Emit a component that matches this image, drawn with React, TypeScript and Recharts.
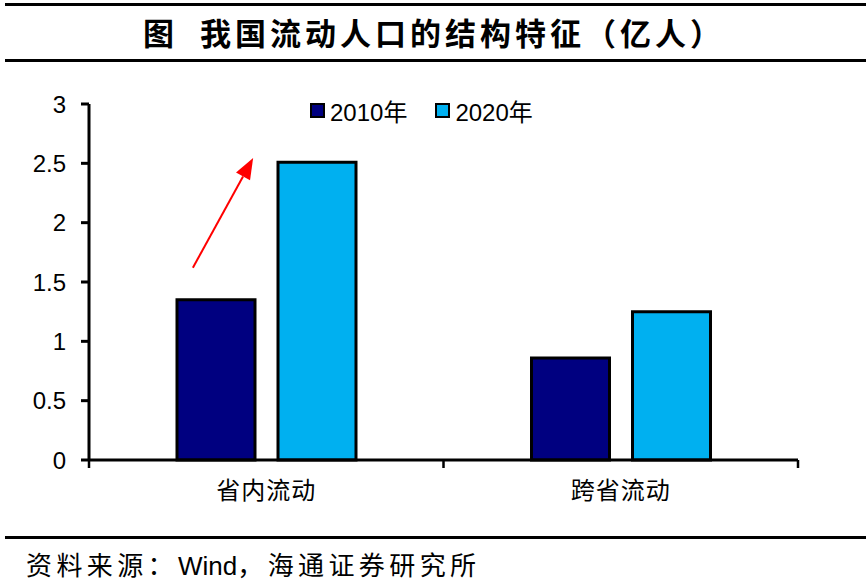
import React from 'react';
import { BarChart, Bar, XAxis, YAxis, ReferenceLine } from 'recharts';

const categories = ['省内流动', '跨省流动'];
const series2010 = [1.35, 0.86];
const series2020 = [2.51, 1.25];
const yTicks = [0, 0.5, 1, 1.5, 2, 2.5, 3];
const seriesNames = ['2010年', '2020年'];
const seriesColors = ['#000080', '#00B0F0'];
const arrowStart = { x: 0.293, y: 1.62 };
const arrowEnd = { x: 0.463, y: 2.545 };

const data = categories.map((c, i) => ({ cat: c, pos: i + 0.5, v2010: series2010[i], v2020: series2020[i] }));

const CJK = '"Noto Sans CJK SC", sans-serif';
const LATIN = '"Liberation Sans", Arial, sans-serif';

const CHART_W = 868;
const MARGIN = { top: 104, right: 70, bottom: 81, left: 29 };
const Y_AXIS_W = 60;
const PLOT_W = CHART_W - MARGIN.left - MARGIN.right - Y_AXIS_W;
const BAND = PLOT_W / categories.length;

const XTick = (props: any) => {
  const { x, y, payload, index } = props;
  return (
    <g>
      <line x1={x - BAND / 2} y1={y} x2={x - BAND / 2} y2={y + 8} stroke="#000" strokeWidth={2.5} />
      {index === categories.length - 1 && (
        <line x1={x + BAND / 2} y1={y} x2={x + BAND / 2} y2={y + 8} stroke="#000" strokeWidth={2.5} />
      )}
      <text x={x} y={y + 39} textAnchor="middle" fontFamily={CJK} fontSize={24} fill="#000" letterSpacing={1}>
        {payload.value}
      </text>
    </g>
  );
};

const ArrowShape = (props: any) => {
  const { x1, y1, x2, y2 } = props;
  if ([x1, y1, x2, y2].some((n) => n === undefined || isNaN(n))) return null;
  const dx = x2 - x1;
  const dy = y2 - y1;
  const len = Math.sqrt(dx * dx + dy * dy);
  const ux = dx / len;
  const uy = dy / len;
  const headLen = 21;
  const headW = 8;
  const bx = x2 - ux * headLen;
  const by = y2 - uy * headLen;
  const px = -uy;
  const py = ux;
  return (
    <g>
      <line x1={x1} y1={y1} x2={bx} y2={by} stroke="#FF0000" strokeWidth={2} />
      <polygon
        points={`${x2},${y2} ${bx + px * headW},${by + py * headW} ${bx - px * headW},${by - py * headW}`}
        fill="#FF0000"
      />
    </g>
  );
};

const LegendBox = () => (
  <div
    style={{
      position: 'absolute',
      left: 310,
      top: 93,
      display: 'flex',
      alignItems: 'center',
      fontSize: 24,
      color: '#000',
      fontFamily: '"Liberation Sans", "Noto Sans CJK SC", sans-serif',
      whiteSpace: 'nowrap',
    }}
  >
    {seriesNames.map((n, i) => (
      <div key={n} style={{ display: 'flex', alignItems: 'center', marginRight: 28 }}>
        <span
          style={{
            display: 'inline-block',
            width: 11,
            height: 11,
            border: '2px solid #000',
            background: seriesColors[i],
            marginRight: 5,
          }}
        />
        <span>{n}</span>
      </div>
    ))}
  </div>
);

export default function App() {
  return (
    <div style={{ position: 'absolute', left: 0, top: 0, width: 868, height: 581, background: '#fff' }}>
      <div style={{ position: 'absolute', left: 5, width: 861, top: 3, height: 3, background: '#000' }} />
      <div
        style={{
          position: 'absolute',
          left: 0,
          width: 868,
          top: 10,
          height: 44,
          lineHeight: '44px',
          textAlign: 'center',
          fontFamily: CJK,
          fontWeight: 700,
          fontSize: 31,
          letterSpacing: 4,
          color: '#000',
        }}
      >
        图&nbsp;&nbsp;我国流动人口的结构特征（亿人）
      </div>
      <div style={{ position: 'absolute', left: 5, width: 861, top: 59, height: 3, background: '#000' }} />

      <div style={{ position: 'absolute', left: 0, top: 0 }}>
        <BarChart width={CHART_W} height={581} data={data} margin={MARGIN} barSize={78} barGap={23}>
          <XAxis
            xAxisId="cat"
            dataKey="cat"
            axisLine={{ stroke: '#000', strokeWidth: 3 }}
            tickLine={false}
            tickSize={0}
            tickMargin={0}
            tick={<XTick />}
            interval={0}
            height={40}
          />
          <XAxis xAxisId="num" dataKey="pos" type="number" domain={[0, 2]} allowDataOverflow hide height={0} />
          <YAxis
            domain={[0, 3]}
            ticks={yTicks}
            interval={0}
            width={Y_AXIS_W}
            axisLine={{ stroke: '#000', strokeWidth: 3 }}
            tickLine={{ stroke: '#000', strokeWidth: 3 }}
            tickSize={8}
            tickMargin={15}
            tick={{ fill: '#000', fontSize: 24, fontFamily: LATIN }}
          />
          <Bar
            xAxisId="cat"
            dataKey="v2010"
            name={seriesNames[0]}
            fill={seriesColors[0]}
            stroke="#000"
            strokeWidth={3}
            isAnimationActive={false}
          />
          <Bar
            xAxisId="cat"
            dataKey="v2020"
            name={seriesNames[1]}
            fill={seriesColors[1]}
            stroke="#000"
            strokeWidth={3}
            isAnimationActive={false}
          />
          <ReferenceLine
            xAxisId="num"
            segment={[arrowStart, arrowEnd]}
            ifOverflow="visible"
            shape={(p: any) => <ArrowShape {...p} />}
          />
        </BarChart>
      </div>
      <LegendBox />

      <div style={{ position: 'absolute', left: 5, width: 861, top: 536, height: 3, background: '#000' }} />
      <div
        style={{
          position: 'absolute',
          left: 26,
          top: 547,
          height: 34,
          lineHeight: '34px',
          fontFamily: CJK,
          fontSize: 26,
          letterSpacing: 4.4,
          color: '#000',
          whiteSpace: 'nowrap',
        }}
      >
        资料来源：<span style={{ fontFamily: LATIN, letterSpacing: 0 }}>Wind</span>，海通证券研究所
      </div>
    </div>
  );
}
